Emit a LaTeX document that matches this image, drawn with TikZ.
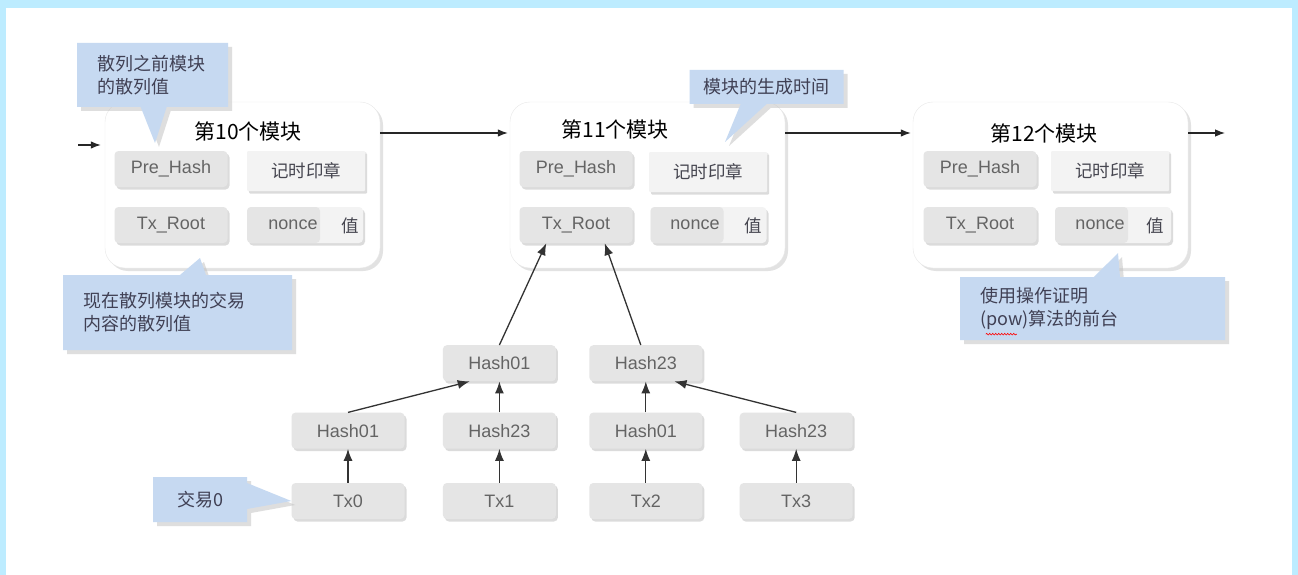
\documentclass[tikz,border=0pt]{standalone}
\usepackage{fontspec}
\setmainfont{Liberation Sans}
\newfontfamily\cjk{Noto Sans CJK SC}
\usepackage{xcolor}
\usetikzlibrary{positioning, arrows.meta, shapes.callouts, shadows, decorations.pathmorphing}

\definecolor{framecyan}{RGB}{189,236,255}
\definecolor{cellgray}{RGB}{229,229,229}
\definecolor{celllight}{RGB}{243,243,243}
\definecolor{noteblue}{RGB}{198,217,241}
\definecolor{labelgray}{RGB}{100,100,100}
\definecolor{labeldark}{RGB}{70,70,80}
\definecolor{notetext}{RGB}{64,64,84}

\begin{document}
\begin{tikzpicture}[
                x=1pt, y=-1pt,
                node distance=34pt,
                block/.style={rectangle, rounded corners=20pt, fill=white, draw=gray!18, minimum width=275pt, minimum height=166pt, drop shadow={shadow xshift=3pt, shadow yshift=-3pt, fill=gray!45}},
                blocktitle/.style={font=\cjk\fontsize{21}{24}\selectfont},
                cell/.style={rectangle, rounded corners=4pt, fill=cellgray, minimum width=113pt, minimum height=36pt, inner sep=0pt, text=labelgray, font=\fontsize{18}{21}\selectfont, drop shadow={shadow xshift=2pt, shadow yshift=-2.5pt, fill=gray!55}},
                stampcell/.style={cell, fill=celllight, rounded corners=1pt, minimum width=118pt, minimum height=40pt, text=labeldark, font=\cjk\fontsize{17.5}{21}\selectfont, drop shadow={shadow xshift=1.5pt, shadow yshift=-1pt, fill=gray!25}},
                noncecell/.style={cell, fill=celllight, minimum width=116pt, path picture={\fill[cellgray] (path picture bounding box.south west) rectangle ([xshift=-43pt]path picture bounding box.north east);}},
                cellword/.style={text=labelgray, font=\fontsize{18}{21}\selectfont},
                cellchar/.style={text=labeldark, font=\cjk\fontsize{17.5}{21}\selectfont},
                note/.style={rectangle callout, fill=noteblue, text=notetext, font=\cjk\fontsize{18}{23}\selectfont, align=left, inner xsep=20pt, callout pointer width=26pt, drop shadow={shadow xshift=4pt, shadow yshift=-4pt, fill=gray!50}},
                chain/.style={-{Latex[length=10pt,width=7.5pt]}, line width=1.1pt, black!85},
                hashup/.style={-{Latex[length=12pt,width=9pt]}, line width=1.3pt, black!80}
            ]
            % frame
            \fill[framecyan] (0,0) rectangle (1298,575);
            \fill[white] (6,8) rectangle (1292,575);
            \useasboundingbox (0,0) rectangle (1298,575);

            % Block 10
            \node[block] (blk10) at (242.5,185) {};
            \node[blocktitle] (title10) at (248,131) {第10个模块};
            \node[cell] (pre10) at (171,169) {Pre\_Hash};
            \node[stampcell] (stamp10) at (306,171) {记时印章};
            \node[cell] (root10) at (171,225) {Tx\_Root};
            \node[noncecell] (nonce10) at (305,225) {};
            \node[cellword] (nlab10) at (293,225) {nonce};
            \node[cellchar] (val10) at (350,226) {值};

            % Block 11
            \node[block] (blk11) at (647.5,185) {};
            \node[blocktitle] (title11) at (615,129) {第11个模块};
            \node[cell] (pre11) at (576,169) {Pre\_Hash};
            \node[stampcell] (stamp11) at (708,172) {记时印章};
            \node[cell] (root11) at (576,225) {Tx\_Root};
            \node[noncecell] (nonce11) at (708.5,225) {};
            \node[cellword] (nlab11) at (695,225) {nonce};
            \node[cellchar] (val11) at (753,226) {值};

            % Block 12
            \node[block] (blk12) at (1050.5,185) {};
            \node[blocktitle] (title12) at (1044,133) {第12个模块};
            \node[cell] (pre12) at (980,169) {Pre\_Hash};
            \node[stampcell] (stamp12) at (1110,171) {记时印章};
            \node[cell] (root12) at (980,225) {Tx\_Root};
            \node[noncecell] (nonce12) at (1113,225) {};
            \node[cellword] (nlab12) at (1100,225) {nonce};
            \node[cellchar] (val12) at (1155,226) {值};

            % Chain links
            \coordinate (feed) at (78,145);
            \coordinate (lane) at (0,133);
            \coordinate (tail) at (1225,133);
            \draw[chain, shorten >=4pt] (feed) -- (feed -| blk10.west);
            \draw[chain, shorten >=2pt] (blk10.east |- lane) -- (blk11.west |- lane);
            \draw[chain, shorten >=2pt] (blk11.east |- lane) -- (blk12.west |- lane);
            \draw[chain] (blk12.east |- lane) -- (tail);

            % Merkle tree
            \node[cell] (tx0) at (348,501) {Tx0};
            \node[cell, right=38pt of tx0] (tx1) {Tx1};
            \node[cell, right=33pt of tx1] (tx2) {Tx2};
            \node[cell, right=37pt of tx2] (tx3) {Tx3};
            \node[cell, above=of tx0] (h01a) {Hash01};
            \node[cell, above=of tx1] (h23a) {Hash23};
            \node[cell, above=of tx2] (h01b) {Hash01};
            \node[cell, above=of tx3] (h23b) {Hash23};
            \node[cell, above=31pt of h23a] (h01) {Hash01};
            \node[cell, above=31pt of h01b] (h23) {Hash23};

            \draw[hashup] (tx0) -- (h01a);
            \draw[hashup] (tx1) -- (h23a);
            \draw[hashup] (tx2) -- (h01b);
            \draw[hashup] (tx3) -- (h23b);
            \draw[hashup] (h01a.north) -- ([xshift=27pt]h01.south west);
            \draw[hashup] (h23a) -- (h01);
            \draw[hashup] (h01b) -- (h23);
            \draw[hashup] (h23b.north) -- ([xshift=-28pt]h23.south east);
            \draw[hashup] (h01.north) -- ([xshift=27pt]root11.south west);
            \draw[hashup] ([xshift=-5pt]h23.north) -- ([xshift=-28pt]root11.south east);

            % Notes
            \coordinate (tipPrev) at (155,143);
            \coordinate (tipRoot) at (200,258);
            \coordinate (tipTime) at (725,142);
            \coordinate (tipPow) at (1118,253);
            \node[note, text width=111pt, minimum height=64pt, callout absolute pointer={(tipPrev)}] (notePrev) at (152.5,75) {散列之前模块\\的散列值};
            \node[note, text width=189pt, minimum height=75pt, callout absolute pointer={(tipRoot)}] (noteRoot) at (177.5,312.5) {现在散列模块的交易\\内容的散列值};
            \node[note, align=center, inner xsep=14pt, minimum height=34pt, callout absolute pointer={(tipTime)}] (noteTime) at (766.5,87) {模块的生成时间};
            \node[note, text width=225pt, minimum height=63pt, callout absolute pointer={(tipPow)}] (notePow) at (1092.5,308.5) {使用操作证明\\(pow)算法的前台};
            \node[note, align=center, inner xsep=10pt, minimum width=94pt, minimum height=45pt, callout absolute pointer={(tx0.west)}] (noteTx) at (200,499.5) {交易0};
            \draw[red, line width=0.6pt, decorate, decoration={snake, segment length=3pt, amplitude=0.8pt}] ([xshift=26pt, yshift=6pt]notePow.south west) -- ([xshift=57pt, yshift=6pt]notePow.south west);
        \end{tikzpicture}
\end{document}
